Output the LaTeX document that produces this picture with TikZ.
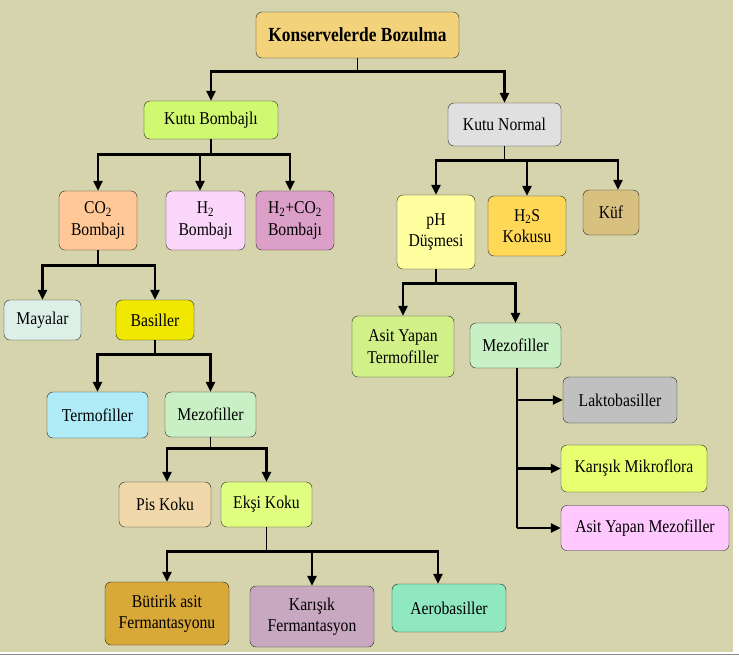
\documentclass[tikz,border=0pt]{standalone}
\usepackage{fontspec}
\setmainfont[FakeStretch=0.87]{Liberation Serif}
\usepackage{tikz}
\usetikzlibrary{arrows.meta}

\definecolor{bgkhaki}{RGB}{213,212,172}
\definecolor{cRoot}{RGB}{242,210,122}
\definecolor{cBomb}{RGB}{208,248,112}
\definecolor{cNormal}{RGB}{224,224,224}
\definecolor{cCO}{RGB}{255,200,150}
\definecolor{cH}{RGB}{250,214,250}
\definecolor{cHCO}{RGB}{220,160,200}
\definecolor{cMaya}{RGB}{220,240,232}
\definecolor{cBasil}{RGB}{240,232,0}
\definecolor{cTermo}{RGB}{176,236,248}
\definecolor{cMezo}{RGB}{200,240,196}
\definecolor{cPis}{RGB}{240,216,170}
\definecolor{cEksi}{RGB}{224,255,128}
\definecolor{cButir}{RGB}{216,168,56}
\definecolor{cKaris}{RGB}{200,168,192}
\definecolor{cAero}{RGB}{144,232,192}
\definecolor{cPh}{RGB}{255,255,160}
\definecolor{cHS}{RGB}{255,216,88}
\definecolor{cKuf}{RGB}{216,192,128}
\definecolor{cAsitT}{RGB}{210,240,136}
\definecolor{cLakto}{RGB}{192,192,192}
\definecolor{cMikro}{RGB}{232,255,112}
\definecolor{cAsitM}{RGB}{255,200,255}

\begin{document}
\begin{tikzpicture}[x=1pt,y=-1pt,>={Triangle[length=10pt,width=9pt]},
    every node/.style={draw=black!85,rounded corners=6pt,align=center,inner sep=0pt,
      font=\fontsize{18}{21.5}\selectfont},
    stem/.style={-,line width=1.1pt},
    bar/.style={->,line width=2.6pt}]
        \useasboundingbox (0,0) rectangle (739,657);
        \fill[bgkhaki] (0,0) rectangle (733,652);
        \draw[black!45,line width=1pt] (0,654.5) -- (739,654.5);

        % top
        \node[fill=cRoot,minimum width=203pt,minimum height=46pt,
          font=\fontsize{20}{24}\selectfont\bfseries] (root) at (357.5,35) {Konservelerde Bozulma};
        \node[fill=cBomb,minimum width=134pt,minimum height=38pt] (bomb) at (211,120) {Kutu Bombajlı};
        \node[fill=cNormal,minimum width=113pt,minimum height=43pt] (normal) at (504.5,124.5) {Kutu Normal};

        % left branch
        \node[fill=cCO,minimum width=78pt,minimum height=59pt] (co2) at (98,220.5) {CO\textsubscript{2}\\Bombajı};
        \node[fill=cH,minimum width=79pt,minimum height=59pt] (h2) at (205.5,220.5) {H\textsubscript{2}\\Bombajı};
        \node[fill=cHCO,minimum width=78pt,minimum height=59pt] (h2co2) at (295,220.5) {H\textsubscript{2}+CO\textsubscript{2}\\Bombajı};
        \node[fill=cMaya,minimum width=77pt,minimum height=40pt] (maya) at (42.5,320) {Mayalar};
        \node[fill=cBasil,minimum width=78pt,minimum height=40pt] (basil) at (155,320) {Basiller};
        \node[fill=cTermo,minimum width=101pt,minimum height=46pt] (termo) at (97.5,415) {Termofiller};
        \node[fill=cMezo,minimum width=91pt,minimum height=45pt] (mezoL) at (210.5,414.5) {Mezofiller};
        \node[fill=cPis,minimum width=92pt,minimum height=45pt] (pis) at (165,504.5) {Pis Koku};
        \node[fill=cEksi,minimum width=91pt,minimum height=45pt] (eksi) at (266.5,504.5) {Ekşi Koku};
        \node[fill=cButir,minimum width=124pt,minimum height=63pt] (butir) at (167,613.5) {Bütirik asit\\Fermantasyonu};
        \node[fill=cKaris,minimum width=124pt,minimum height=61pt] (karis) at (312,616.5) {Karışık\\Fermantasyon};
        \node[fill=cAero,minimum width=114pt,minimum height=48pt] (aero) at (449,608) {Aerobasiller};

        % right branch
        \node[fill=cPh,minimum width=78pt,minimum height=74pt] (ph) at (436,232) {pH\\Düşmesi};
        \node[fill=cHS,minimum width=78pt,minimum height=60pt] (h2s) at (527,226) {H\textsubscript{2}S\\Kokusu};
        \node[fill=cKuf,minimum width=56pt,minimum height=45pt] (kuf) at (611,212.5) {Küf};
        \node[fill=cAsitT,minimum width=102pt,minimum height=61pt] (asitT) at (403,346.5) {Asit Yapan\\Termofiller};
        \node[fill=cMezo,minimum width=91pt,minimum height=45pt] (mezoR) at (515.5,345.5) {Mezofiller};
        \node[fill=cLakto,minimum width=114pt,minimum height=46pt] (lakto) at (620,400) {Laktobasiller};
        \node[fill=cMikro,minimum width=146pt,minimum height=47pt] (mikro) at (634,468.5) {Karışık Mikroflora};
        \node[fill=cAsitM,minimum width=168pt,minimum height=45pt] (asitM) at (645,528) {Asit Yapan Mezofiller};

        % connectors
        \draw[stem] (root.south) -- ++(0,13) coordinate (jroot);
        \draw[bar] (jroot) -| (bomb);
        \draw[bar] (jroot) -| (normal);

        \draw[stem] (bomb.south) -- ++(0,15) coordinate (jbomb);
        \draw[bar] (jbomb) -| (co2);
        \draw[bar] (jbomb) -| ([xshift=-5.5pt]h2.north);
        \draw[bar] (jbomb) -| ([xshift=-5pt]h2co2.north);

        \draw[stem] (co2.south) -- ++(0,15) coordinate (jco2);
        \draw[bar] (jco2) -| (maya);
        \draw[bar] (jco2) -| (basil);

        \draw[stem] (basil.south) -- ++(0,14) coordinate (jbasil);
        \draw[bar] (jbasil) -| (termo);
        \draw[bar] (jbasil) -| (mezoL);

        \draw[stem] (mezoL.south) -- ++(0,11) coordinate (jmezo);
        \draw[bar] (jmezo) -| ([xshift=2pt]pis.north);
        \draw[bar] (jmezo) -| (eksi);

        \draw[stem] (eksi.south) -- ++(0,24) coordinate (jeksi);
        \draw[bar] (jeksi) -| (butir);
        \draw[bar] (jeksi) -| (karis);
        \draw[bar] (jeksi) -| ([xshift=-11pt]aero.north);

        \draw[stem] (normal.south) -- ++(0,14) coordinate (jnormal);
        \draw[bar] (jnormal) -| (ph);
        \draw[bar] (jnormal) -| (h2s);
        \draw[bar] (jnormal) -| ([xshift=7pt]kuf.north);

        \draw[stem] (ph.south) -- ++(0,14) coordinate (jph);
        \draw[bar] (jph) -| (asitT);
        \draw[bar] (jph) -| (mezoR);

        \draw[stem] ([xshift=1.5pt]mezoR.south) -- ([xshift=1.5pt]mezoR.south |- asitM.west);
        \draw[bar] ([xshift=1.5pt]mezoR.south |- lakto.west) -- (lakto.west);
        \draw[bar] ([xshift=1.5pt]mezoR.south |- mikro.west) -- (mikro.west);
        \draw[bar] ([xshift=1.5pt]mezoR.south |- asitM.west) -- (asitM.west);

  \end{tikzpicture}
\end{document}
